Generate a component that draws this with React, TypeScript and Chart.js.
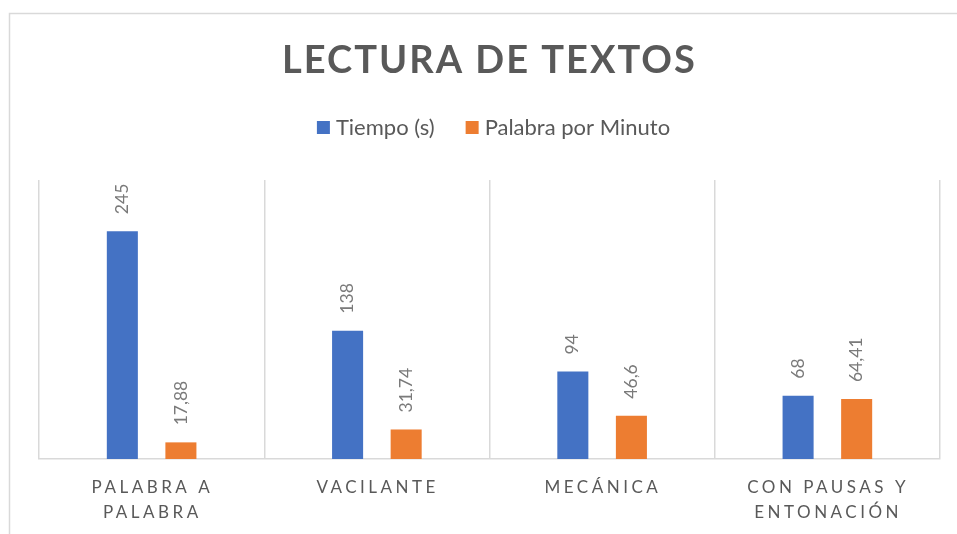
import React, { useEffect, useRef } from 'react';
import { Chart, registerables } from 'chart.js';

Chart.register(...registerables);

const TITLE = 'LECTURA DE TEXTOS';
const categories: string[][] = [
  ['PALABRA A', 'PALABRA'],
  ['VACILANTE'],
  ['MECÁNICA'],
  ['CON PAUSAS Y', 'ENTONACIÓN'],
];
const seriesNames = ['Tiempo (s)', 'Palabra por Minuto'];
const tiempo = [245, 138, 94, 68];
const palabrasPorMinuto = [17.88, 31.74, 46.6, 64.41];
const colors = ['#4472C4', '#ED7D31'];

const TEXT = '#595959';
const LABEL = '#7a7a7a';
const GRID = '#d9d9d9';
const FONT = 'Lato, "Open Sans", sans-serif';

function spacedWidth(ctx: CanvasRenderingContext2D, s: string, ls: number) {
  return ctx.measureText(s).width - ls;
}

const decorPlugin = {
  id: 'decor',
  beforeDraw(chart: any) {
    const ctx: CanvasRenderingContext2D = chart.ctx;
    ctx.save();
    ctx.fillStyle = '#ffffff';
    ctx.fillRect(0, 0, chart.width, chart.height);
    ctx.strokeStyle = GRID;
    ctx.lineWidth = 1.5;
    ctx.beginPath();
    ctx.moveTo(9.5, chart.height);
    ctx.lineTo(9.5, 13.5);
    ctx.lineTo(chart.width, 13.5);
    ctx.stroke();
    ctx.restore();
  },
  afterDraw(chart: any) {
    const ctx: any = chart.ctx;
    const area = chart.chartArea;
    const cx = (area.left + area.right) / 2;
    ctx.save();

    // Title
    let ls = 2;
    ctx.letterSpacing = ls + 'px';
    ctx.font = `bold 38px ${FONT}`;
    ctx.fillStyle = TEXT;
    ctx.textBaseline = 'alphabetic';
    ctx.textAlign = 'left';
    let w = spacedWidth(ctx, TITLE, ls);
    ctx.fillText(TITLE, cx - 1 - w / 2, 73);

    // Legend
    ctx.letterSpacing = '0px';
    ctx.font = `22px ${FONT}`;
    const box = 13;
    const gapBoxText = 6;
    const gapItems = 31;
    const widths = seriesNames.map((n) => ctx.measureText(n).width);
    const total = widths.reduce((a, b) => a + b, 0) + seriesNames.length * (box + gapBoxText) + gapItems * (seriesNames.length - 1);
    let x = cx + 4 - total / 2;
    seriesNames.forEach((n, i) => {
      ctx.fillStyle = colors[i];
      ctx.fillRect(x, 121, box, box);
      x += box + gapBoxText;
      ctx.fillStyle = TEXT;
      ctx.fillText(n, x, 135);
      x += widths[i] + gapItems;
    });

    // Category labels
    ls = 3.5;
    ctx.letterSpacing = ls + 'px';
    ctx.font = `17px ${FONT}`;
    ctx.fillStyle = TEXT;
    const xs = chart.scales.x;
    categories.forEach((lines, i) => {
      const px = xs.getPixelForValue(i);
      lines.forEach((line, j) => {
        const lw = spacedWidth(ctx, line, ls);
        ctx.fillText(line, px - 1 - lw / 2, 493 + j * 25);
      });
    });

    // Data labels
    ctx.letterSpacing = '0px';
    ctx.font = `17.5px ${FONT}`;
    ctx.fillStyle = LABEL;
    ctx.textBaseline = 'middle';
    chart.data.datasets.forEach((ds: any, d: number) => {
      const meta = chart.getDatasetMeta(d);
      meta.data.forEach((bar: any, i: number) => {
        const v = ds.data[i];
        const txt = String(v).replace('.', ',');
        ctx.save();
        ctx.translate(bar.x, bar.y - 17);
        ctx.rotate(-Math.PI / 2);
        ctx.fillText(txt, 0, 0);
        ctx.restore();
      });
    });
    ctx.restore();
  },
};

export default function App() {
  const ref = useRef<HTMLCanvasElement>(null);
  useEffect(() => {
    if (!ref.current) return;
    const chart = new Chart(ref.current, {
      type: 'bar',
      data: {
        labels: categories.map((c) => c.join(' ')),
        datasets: [
          { label: seriesNames[0], data: tiempo, backgroundColor: colors[0] },
          { label: seriesNames[1], data: palabrasPorMinuto, backgroundColor: colors[1] },
        ],
      },
      options: {
        responsive: false,
        animation: false,
        events: [],
        layout: { padding: { left: 39, right: 17, top: 180, bottom: 75 } },
        datasets: {
          bar: { categoryPercentage: 0.52, barPercentage: 0.53 },
        } as any,
        plugins: {
          legend: { display: false },
          title: { display: false },
          tooltip: { enabled: false },
        },
        scales: {
          x: {
            grid: { color: GRID, lineWidth: 1.5, drawTicks: false, offset: true },
            border: { color: GRID, width: 1.5 },
            ticks: { display: false },
          },
          y: {
            display: false,
            min: 0,
            max: 300,
          },
        },
      },
      plugins: [decorPlugin],
    });
    return () => chart.destroy();
  }, []);
  return (
    <div style={{ position: 'fixed', left: 0, top: 0, width: 957, height: 534 }}>
      <canvas ref={ref} width={957} height={534} />
    </div>
  );
}
